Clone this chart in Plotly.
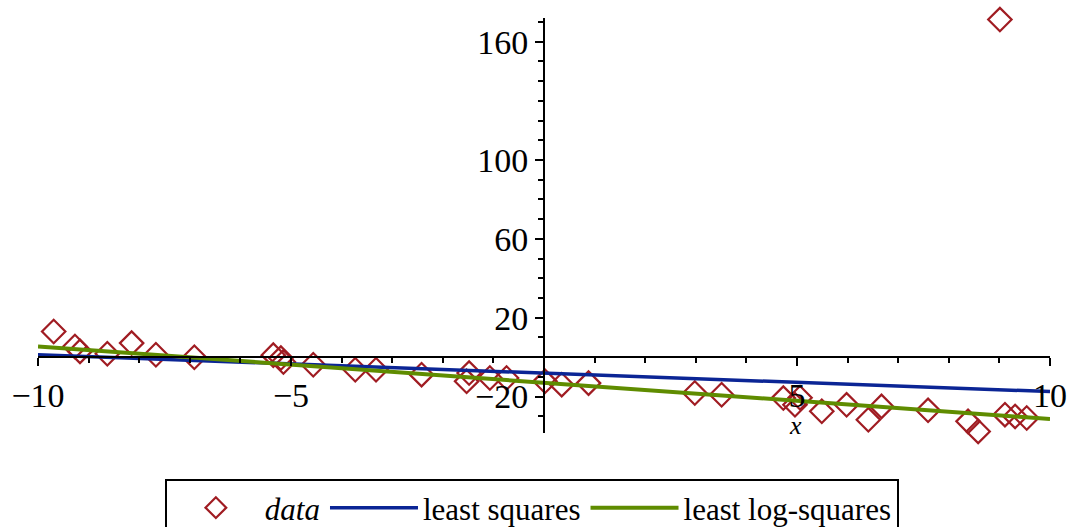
import plotly.graph_objects as go

# ---- data ----
x_data = [-9.69, -9.27, -9.17, -8.63, -8.15, -7.67, -6.91, -5.35, -5.2, -5.15,
          -4.56, -3.73, -3.32, -2.42, -1.53, -1.48, -1.07, -0.74, 0.02, 0.35,
          0.88, 2.98, 3.51, 4.73, 4.96, 5.06, 5.49, 5.98, 6.41, 6.67,
          7.59, 8.38, 8.58, 9.01, 9.11, 9.31, 9.54]
y_data = [13.0, 5.4, 2.9, 1.7, 7.1, 1.2, -0.1, 1.0, -0.5, -2.5,
          -3.9, -6.4, -6.4, -8.9, -12.3, -8.1, -10.6, -10.6, -12.3, -14.0,
          -13.2, -18.2, -19.1, -20.8, -24.2, -20.6, -27.5, -24.2, -31.8, -25.0,
          -27.0, -32.6, -37.7, 171.2, -29.2, -30.1, -30.9]

fit_x = [-10, 10]
ls_y = [1.2, -17.5]        # least squares
lls_y = [5.4, -31.4]       # least log-squares

x_tickvals = [-10, -5, 5, 10]
x_ticktext = ["\u221210", "\u22125", "5", "10"]
y_tickvals = [-20, 20, 60, 100, 160]
y_ticktext = ["\u221220", "20", "60", "100", "160"]

x_range = [-10, 10]
y_range = [-38.5, 172]

FONT = "Liberation Serif"
RED = "#a01c22"
BLUE = "#0b2595"
GREEN = "#5f8c00"

fig = go.Figure()
fig.add_trace(go.Scatter(
    x=x_data, y=y_data, mode="markers", name="<i>data</i>",
    marker=dict(symbol="diamond-open", size=18, color=RED, line=dict(width=2.2, color=RED)),
    cliponaxis=False,
))
fig.add_trace(go.Scatter(
    x=fit_x, y=ls_y, mode="lines", name="least squares",
    line=dict(color=BLUE, width=3.5),
))
fig.add_trace(go.Scatter(
    x=fit_x, y=lls_y, mode="lines", name="least log-squares",
    line=dict(color=GREEN, width=4),
))

x_pos = (0 - y_range[0]) / (y_range[1] - y_range[0])
y_pos = (0 - x_range[0]) / (x_range[1] - x_range[0])

fig.update_layout(
    width=1068, height=527,
    margin=dict(l=38, r=18, t=18, b=94),
    paper_bgcolor="white", plot_bgcolor="white",
    font=dict(family=FONT, size=34, color="black"),
    xaxis=dict(
        range=x_range, anchor="free", position=x_pos, automargin=False,
        showgrid=False, zeroline=False,
        showline=True, linecolor="black", linewidth=2,
        tickmode="array", tickvals=x_tickvals, ticktext=x_ticktext,
        ticks="outside", ticklen=8, tickwidth=2, tickcolor="black",
        tickfont=dict(family=FONT, size=34),
        minor=dict(dtick=1, tick0=0, ticks="outside", ticklen=5, tickwidth=2, tickcolor="black"),
    ),
    yaxis=dict(
        range=y_range, anchor="free", position=y_pos, automargin=False,
        showgrid=False, zeroline=False,
        showline=True, linecolor="black", linewidth=2,
        tickmode="array", tickvals=y_tickvals, ticktext=y_ticktext,
        ticks="outside", ticklen=8, tickwidth=2, tickcolor="black",
        tickfont=dict(family=FONT, size=34),
        minor=dict(dtick=10, tick0=0, ticks="outside", ticklen=5, tickwidth=2, tickcolor="black"),
    ),
    showlegend=True,
    legend=dict(
        orientation="h", xref="container", yref="container",
        x=0.498, xanchor="center", y=0.0911, yanchor="top",
        bordercolor="black", borderwidth=2, bgcolor="white",
        font=dict(family=FONT, size=31, color="black"),
        itemwidth=88,
    ),
    annotations=[dict(
        x=4.97, y=-34.6, xref="x", yref="y", text="<i>x</i>", showarrow=False,
        font=dict(family=FONT, size=26, color="black"),
    )],
)

fig.write_html("out.html")
